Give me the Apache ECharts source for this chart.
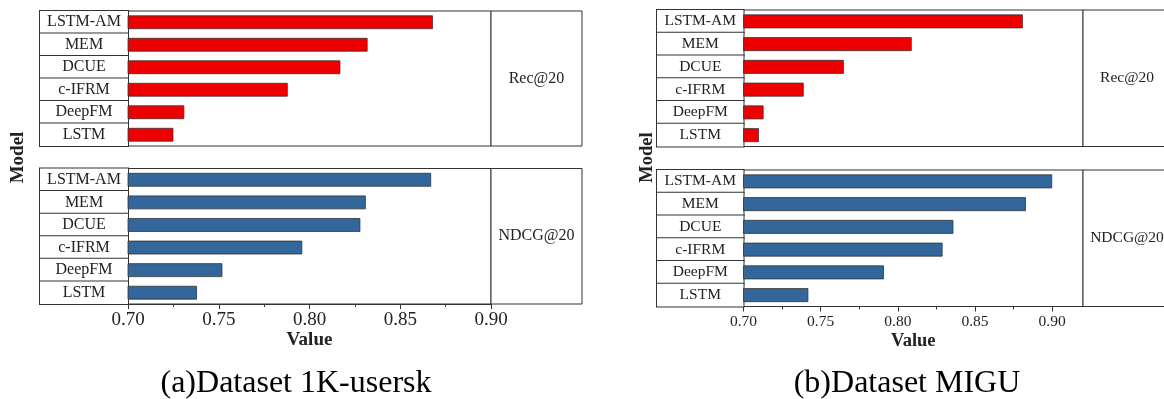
<!DOCTYPE html>
<html><head><meta charset="utf-8">
<script src="https://cdn.jsdelivr.net/npm/echarts@6/dist/echarts.min.js"></script>
<style>html,body{margin:0;padding:0;background:#fff}#c{width:1164px;height:399px}</style>
</head><body><div id="c"></div>
<script>
// ---- data ----
const categories = ['LSTM-AM', 'MEM', 'DCUE', 'c-IFRM', 'DeepFM', 'LSTM'];
const recUsersk  = [0.868, 0.832, 0.817, 0.788, 0.731, 0.725];
const ndcgUsersk = [0.867, 0.831, 0.828, 0.796, 0.752, 0.738];
const recMigu    = [0.881, 0.809, 0.765, 0.739, 0.713, 0.710];
const ndcgMigu   = [0.900, 0.883, 0.836, 0.829, 0.791, 0.742];
const majorTicks = [0.70, 0.75, 0.80, 0.85, 0.90];
const minorTicks = [0.725, 0.775, 0.825, 0.875];
const stripLabels = ['Rec@20', 'NDCG@20'];
const captions = ['(a)Dataset 1K-usersk', '(b)Dataset MIGU'];
const axisName = 'Value';
const yName = 'Model';

// ---- layout ----
const FF = '"Liberation Serif","Times New Roman",serif';
const LINE = '#333';
const TXT = '#222';
const RED = '#ee0000';
const BLUE = '#33669a';

const panels = [
  { left: 128, width: 363, tops: [11, 168.5], heights: [135, 135.5], max: 0.90, cellW: 88, font: 16, tickFont: 19, nameFont: 19, stripW: 91, stripCx: 536.5, modelX: 18, modelFont: 19, rec: recUsersk, ndcg: ndcgUsersk, capX: 296 },
  { left: 743.5, width: 339.5, tops: [10, 170], heights: [136.5, 136.5], max: 0.92, cellW: 86.5, font: 15.5, tickFont: 15.5, nameFont: 18.5, stripW: 91, stripCx: 1127, modelX: 647, modelFont: 18.5, rec: recMigu, ndcg: ndcgMigu, capX: 907 }
];

const grid = [], xAxis = [], yAxis = [], series = [], graphic = [];

panels.forEach((p, pi) => {
  [0, 1].forEach(row => {
    const gi = grid.length;
    const h = p.heights[row];
    grid.push({ left: p.left, top: p.tops[row], width: p.width, height: h, show: true, borderColor: LINE, borderWidth: 1, backgroundColor: 'transparent', containLabel: false });
    const bottom = row === 1;
    const xi = xAxis.length;
    xAxis.push({
      type: 'value', gridIndex: gi, min: 0.70, max: p.max, position: 'bottom',
      axisLine: { show: bottom, lineStyle: { color: LINE, width: 1 } },
      axisTick: { show: bottom, customValues: majorTicks, length: 5, lineStyle: { color: LINE } },
      axisLabel: { show: bottom, customValues: majorTicks, formatter: v => v.toFixed(2), margin: 7, fontFamily: FF, fontSize: p.tickFont, color: TXT },
      splitLine: { show: false },
      name: bottom ? axisName : '', nameLocation: 'middle', nameGap: 25,
      nameTextStyle: { fontFamily: FF, fontSize: p.nameFont, fontWeight: 'bold', color: TXT }
    });
    if (bottom) {
      xAxis.push({
        type: 'value', gridIndex: gi, min: 0.70, max: p.max, position: 'bottom', offset: 0,
        axisLine: { show: false },
        axisTick: { show: true, customValues: minorTicks, length: 3, lineStyle: { color: LINE } },
        axisLabel: { show: false },
        splitLine: { show: false }
      });
    }
    const cellH = h / categories.length;
    yAxis.push({
      type: 'category', gridIndex: gi, data: categories, inverse: true,
      axisLine: { show: true, lineStyle: { color: LINE, width: 1 } },
      axisTick: { show: false }, splitLine: { show: false },
      axisLabel: {
        interval: 0, margin: 0,
        formatter: v => '{c|' + v + '}',
        rich: { c: { width: p.cellW, height: cellH, lineHeight: cellH, align: 'center', verticalAlign: 'middle', borderColor: LINE, borderWidth: 1, backgroundColor: '#fff', fontFamily: FF, fontSize: p.font, color: TXT } }
      }
    });
    series.push({
      type: 'bar', xAxisIndex: xi, yAxisIndex: gi,
      data: row === 0 ? p.rec : p.ndcg,
      barWidth: '61%',
      itemStyle: { color: row === 0 ? RED : BLUE, borderColor: LINE, borderWidth: 0.8 },
      silent: true, animation: false
    });
    // facet strip
    const x0 = p.left + p.width;
    graphic.push({ type: 'rect', shape: { x: x0, y: p.tops[row], width: p.stripW, height: h }, style: { fill: '#fff', stroke: LINE, lineWidth: 1 }, z: 1 });
    graphic.push({ type: 'text', x: p.stripCx, y: p.tops[row] + h / 2, style: { text: stripLabels[row], fontFamily: FF, fontSize: p.font, fill: TXT, textAlign: 'center', textVerticalAlign: 'middle' }, z: 2 });
  });
  // y axis name
  graphic.push({ type: 'text', x: p.modelX, y: 157.5, rotation: Math.PI / 2, style: { text: yName, fontFamily: FF, fontSize: p.modelFont, fontWeight: 'bold', fill: TXT, textAlign: 'center', textVerticalAlign: 'middle' } });
  // caption
  graphic.push({ type: 'text', x: p.capX, y: 384, style: { text: captions[pi], fontFamily: FF, fontSize: 32, fill: '#000', textAlign: 'center', textVerticalAlign: 'middle' } });
});

const chart = echarts.init(document.getElementById('c'), null, { renderer: 'canvas' });
chart.setOption({ animation: false, backgroundColor: '#fff', grid, xAxis, yAxis, series, graphic });
</script>
</body></html>
